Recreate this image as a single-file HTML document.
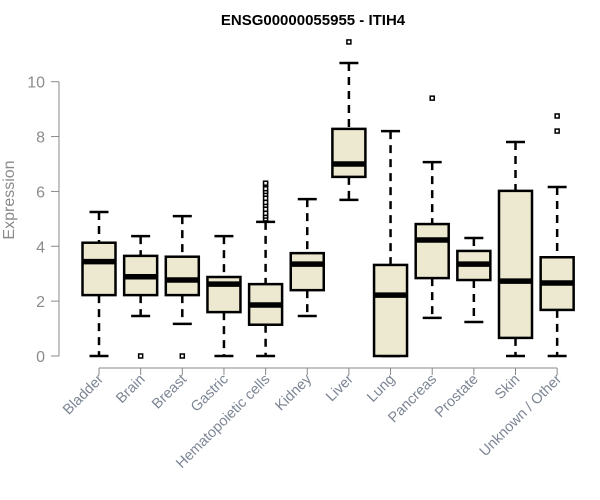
<!DOCTYPE html>
<html><head><meta charset="utf-8"><style>
body{margin:0;background:#fff;}
svg{display:block;font-family:"Liberation Sans",Arial,sans-serif;}
</style></head><body>
<svg id="chart" width="600" height="500">
<text x="313" y="25" text-anchor="middle" font-weight="bold" font-size="15" fill="#000">ENSG00000055955 - ITIH4</text>
<text transform="translate(14,200) rotate(-90)" text-anchor="middle" font-size="16" fill="#8a8a8a">Expression</text>
<g id="yaxis"></g>
<g id="xaxis"></g>
<g id="boxes"></g>
</svg>
<script>
const categories=["Bladder","Brain","Breast","Gastric","Hematopoietic cells","Kidney","Liver","Lung","Pancreas","Prostate","Skin","Unknown / Other"];
const lowerWhisker=[0,1.46,1.17,0,0,1.46,5.69,0,1.39,1.24,0,0];
const q1=[2.22,2.22,2.22,1.6,1.14,2.4,6.53,0,2.84,2.77,0.66,1.68];
const medians=[3.44,2.89,2.77,2.62,1.86,3.35,7.0,2.22,4.23,3.35,2.73,2.66];
const q3=[4.13,3.65,3.62,2.88,2.62,3.75,8.28,3.32,4.81,3.83,6.02,3.6];
const upperWhisker=[5.25,4.37,5.1,4.37,4.89,5.72,10.68,8.2,7.07,4.3,7.8,6.16];
const outliers=[[],[0],[0],[],[5.0,5.1,5.2,5.35,5.5,5.6,5.75,5.9,6.0,6.1,6.25,6.3],[],[11.45],[],[9.4],[],[],[8.2,8.75]];
const yTicks=[0,2,4,6,8,10];
const NS="http://www.w3.org/2000/svg";
const y=v=>356-v*27.43;
const x=i=>99+i*41.65;
function mk(tag,attrs,parent){const e=document.createElementNS(NS,tag);for(const k in attrs)e.setAttribute(k,attrs[k]);parent.appendChild(e);return e;}
const ya=document.getElementById('yaxis'),xa=document.getElementById('xaxis'),bx=document.getElementById('boxes');
let l=mk('line',{x1:59,x2:59,y1:y(10),y2:y(0),stroke:'#888','stroke-width':1},ya);


yTicks.forEach(t=>{
 const tk=mk('line',{x1:51,x2:59,y1:y(t),y2:y(t),stroke:'#888'},ya);
 
 
 const tx=mk('text',{x:45,y:y(t)+6,'text-anchor':'end','font-size':16,fill:'#8c8c8c'},ya);
 tx.textContent=t;
 
 
});
l=mk('line',{x1:x(0),x2:x(categories.length-1),y1:368,y2:368,stroke:'#888'},xa);


categories.forEach((c,i)=>{
 const tk=mk('line',{x1:x(i),x2:x(i),y1:368,y2:375,stroke:'#888'},xa);
 
 
 const tx=mk('text',{transform:`translate(${x(i)+5},380) rotate(-45)`,'text-anchor':'end','font-size':14.5,fill:'#7c8594'},xa);
 tx.textContent=c;
 
 
 const g=mk('g',{},bx);
 
 
 const cx=x(i);
 mk('line',{x1:cx,x2:cx,y1:y(upperWhisker[i]),y2:y(q3[i]),stroke:'#000','stroke-width':2.5,'stroke-dasharray':'8,6'},g);
 mk('line',{x1:cx,x2:cx,y1:y(q1[i]),y2:y(lowerWhisker[i]),stroke:'#000','stroke-width':2.5,'stroke-dasharray':'8,6'},g);
 mk('line',{x1:cx-9.5,x2:cx+9.5,y1:y(upperWhisker[i]),y2:y(upperWhisker[i]),stroke:'#000','stroke-width':2.5},g);
 mk('line',{x1:cx-9.5,x2:cx+9.5,y1:y(lowerWhisker[i]),y2:y(lowerWhisker[i]),stroke:'#000','stroke-width':2.5},g);
 mk('rect',{x:cx-16.5,y:y(q3[i]),width:33,height:y(q1[i])-y(q3[i]),fill:'#ede8d0',stroke:'#000','stroke-width':2.5},g);
 mk('line',{x1:cx-16.5,x2:cx+16.5,y1:y(medians[i]),y2:y(medians[i]),stroke:'#000','stroke-width':5.5},g);
 outliers[i].forEach(o=>{mk('rect',{x:cx-2,y:y(o)-2,width:4,height:4,fill:'#fff',stroke:'#000','stroke-width':1.5},g);});
});
</script>
</body></html>
